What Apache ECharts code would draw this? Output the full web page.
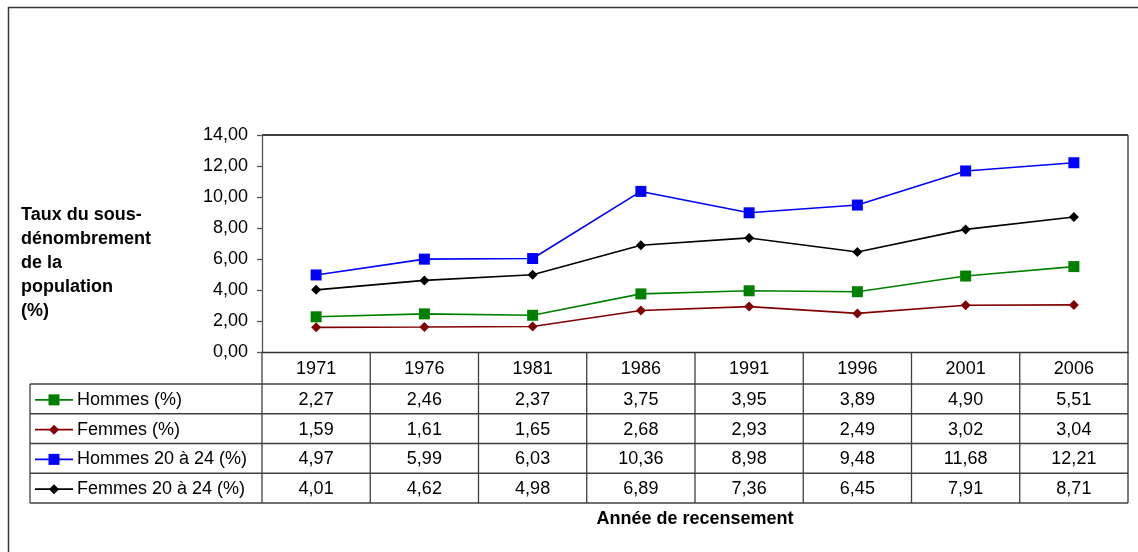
<!DOCTYPE html>
<html>
<head>
<meta charset="utf-8">
<script src="https://cdn.jsdelivr.net/npm/echarts@6/dist/echarts.min.js"></script>
<style>
html,body{margin:0;padding:0;background:#fff;}
#c{width:1138px;height:552px;}
</style>
</head>
<body>
<div id="c"></div>
<script>
const years = ['1971','1976','1981','1986','1991','1996','2001','2006'];
const hommes = [2.27,2.46,2.37,3.75,3.95,3.89,4.90,5.51];
const femmes = [1.59,1.61,1.65,2.68,2.93,2.49,3.02,3.04];
const hommes2024 = [4.97,5.99,6.03,10.36,8.98,9.48,11.68,12.21];
const femmes2024 = [4.01,4.62,4.98,6.89,7.36,6.45,7.91,8.71];
const seriesNames = ['Hommes (%)','Femmes (%)','Hommes 20 à 24 (%)','Femmes 20 à 24 (%)'];
const seriesColors = ['#008000','#800000','#0000ff','#000000'];
const seriesSymbols = ['rect','diamond','rect','diamond'];
const yTitle = 'Taux du sous-\ndénombrement\nde la\npopulation\n(%)';
const xTitle = 'Année de recensement';

const seriesData = [hommes, femmes, hommes2024, femmes2024];
const FONT = '"Liberation Sans", Arial, sans-serif';
const fmt = v => v.toFixed(2).replace('.', ',');

const G = {left: 262, top: 135, right: 1128, bottom: 352};
const tableLeft = 30;
const headerH = 32;
const rowH = 29.75;

const chart = echarts.init(document.getElementById('c'), null, {renderer: 'canvas'});

chart.setOption({
  backgroundColor: '#fff',
  animation: false,
  grid: {left: G.left, top: G.top, width: G.right - G.left, height: G.bottom - G.top, containLabel: false},
  xAxis: {
    type: 'category', data: years, boundaryGap: true,
    axisLine: {show: true, lineStyle: {color: '#333', width: 1.3}},
    axisTick: {show: false}, axisLabel: {show: false}, splitLine: {show: false}
  },
  yAxis: {
    type: 'value', min: 0, max: 14, interval: 2,
    axisLine: {show: true, lineStyle: {color: '#555', width: 1.3}},
    axisTick: {show: true, inside: false, length: 5, lineStyle: {color: '#555', width: 1.3}},
    axisLabel: {margin: 14, formatter: v => fmt(v), fontFamily: FONT, fontSize: 18, color: '#000'},
    splitLine: {show: false}
  },
  series: seriesData.map((d, i) => ({
    name: seriesNames[i], type: 'line', data: d,
    symbol: seriesSymbols[i], symbolSize: seriesSymbols[i] === 'rect' ? 11 : 10,
    lineStyle: {color: seriesColors[i], width: 1.6},
    itemStyle: {color: seriesColors[i]}
  }))
});

// table & texts
const els = [];
const lineStyle = {stroke: '#404040', lineWidth: 1.3};
function L(x1, y1, x2, y2, st) {
  els.push({type: 'line', silent: true, shape: {x1, y1, x2, y2}, style: Object.assign({}, st || lineStyle)});
}
function T(x, y, text, opt) {
  els.push({type: 'text', silent: true, x, y, style: Object.assign({
    text, fill: '#000', font: '18px ' + FONT, align: 'center', verticalAlign: 'middle'
  }, opt || {})});
}

// outer border
els.push({type: 'rect', silent: true, shape: {x: 8.5, y: 7.5, width: 1300, height: 700},
  style: {fill: null, stroke: '#3a3a3a', lineWidth: 1.5}});

// plot area border top & right
L(G.left, G.top, G.right, G.top, {stroke: '#000', lineWidth: 1.3});
L(G.right, G.top, G.right, G.bottom, {stroke: '#333', lineWidth: 1.3});

const centers = years.map(y => chart.convertToPixel({xAxisIndex: 0}, y));
const cw = centers[1] - centers[0];
const tableBottom = G.bottom + headerH + rowH * seriesNames.length;

// horizontal lines
for (let r = 0; r <= seriesNames.length; r++) {
  const y = G.bottom + headerH + r * rowH;
  L(tableLeft, y, G.right, y);
}
// vertical lines
L(tableLeft, G.bottom + headerH, tableLeft, tableBottom);
L(G.left, G.bottom, G.left, tableBottom);
for (let i = 0; i < years.length; i++) {
  const x = centers[i] + cw / 2;
  L(x, G.bottom, x, tableBottom, i === years.length - 1 ? {stroke: '#333', lineWidth: 1.3} : lineStyle);
}
// header years
years.forEach((y, i) => T(centers[i], G.bottom + headerH / 2 + 1, y));
// rows
seriesNames.forEach((name, r) => {
  const cy = G.bottom + headerH + r * rowH + rowH / 2 + 1;
  // legend key
  L(35, cy, 73, cy, {stroke: seriesColors[r], lineWidth: 1.6});
  if (seriesSymbols[r] === 'rect') {
    els.push({type: 'rect', silent: true, shape: {x: 54 - 5.5, y: cy - 5.5, width: 11, height: 11}, style: {fill: seriesColors[r]}});
  } else {
    els.push({type: 'polygon', silent: true, shape: {points: [[54, cy - 5], [59, cy], [54, cy + 5], [49, cy]]}, style: {fill: seriesColors[r]}});
  }
  T(77, cy, name, {align: 'left'});
  seriesData[r].forEach((v, i) => T(centers[i], cy, fmt(v)));
});

// axis titles
T(21, 203, yTitle, {align: 'left', verticalAlign: 'top', font: 'bold 18px ' + FONT, lineHeight: 24});
T((G.left + G.right) / 2, 519, xTitle, {font: 'bold 18px ' + FONT});

chart.setOption({graphic: {elements: els}});
</script>
</body>
</html>
